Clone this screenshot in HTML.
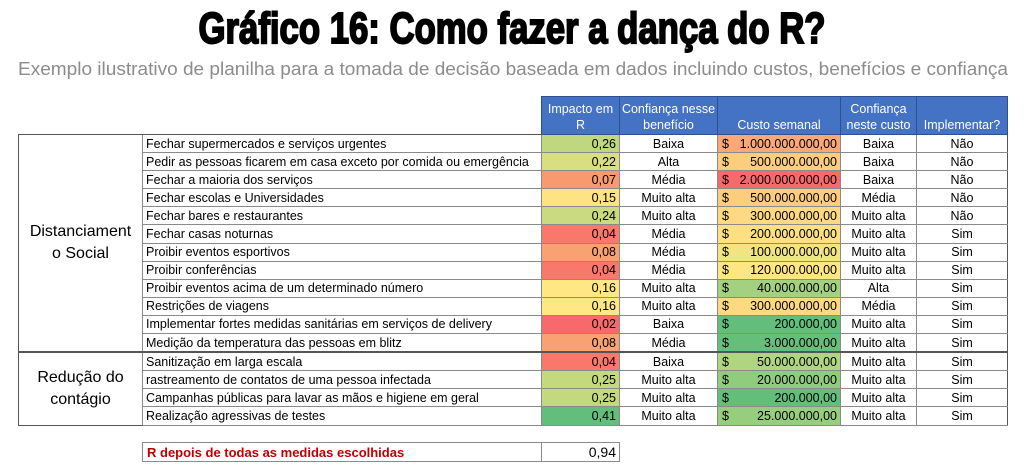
<!DOCTYPE html>
<html><head><meta charset="utf-8"><style>
body{margin:0;width:1024px;height:476px;background:#fff;position:relative;overflow:hidden;font-family:"Liberation Sans",sans-serif}
svg.t{position:absolute;left:0;top:0}
table{position:absolute;left:18px;top:96px;border-collapse:collapse;table-layout:fixed;font-size:12.5px;color:#000}
td{padding:0 3px;height:17.1px;line-height:16px;white-space:nowrap;overflow:hidden;border:1px solid #8a8a8a}
tr.h td{height:36px;background:#4472c4;color:#fff;text-align:center;vertical-align:bottom;line-height:16px;border:1px solid #2f4f8f;padding:0 1px 1px}
tr.h td.e{background:none;border:none;border-bottom:1px solid #555}
td.cat{text-align:center;font-size:16px;line-height:22px;border:1px solid #555;border-right:1px solid #8a8a8a}
td.n{text-align:right}
td.c{text-align:center}
td.m{text-align:right;position:relative}
td.m span{position:absolute;left:4px}
tr.g td{border-top:2px solid #555}
td.last{border-right:1px solid #555}
.b{position:absolute;top:442px;height:20px;border:1px solid #8a8a8a;font-size:13px;line-height:19px;box-sizing:border-box}
</style></head><body>
<svg class="t" width="1024" height="90">
<text x="512" y="43" text-anchor="middle" font-family="Liberation Sans Narrow, Liberation Sans, sans-serif" font-weight="bold" font-size="44" textLength="627" lengthAdjust="spacingAndGlyphs" fill="#000" stroke="#000" stroke-width="2">Gráfico 16: Como fazer a dança do R?</text>
<text x="513" y="75" text-anchor="middle" font-family="Liberation Sans Narrow, Liberation Sans, sans-serif" font-size="18" textLength="990" lengthAdjust="spacingAndGlyphs" fill="#8c8c8c">Exemplo ilustrativo de planilha para a tomada de decisão baseada em dados incluindo custos, benefícios e confiança</text>
</svg>
<table>
<colgroup><col style="width:124px"><col style="width:399px"><col style="width:78px"><col style="width:98px"><col style="width:123px"><col style="width:76px"><col style="width:91px"></colgroup>
<tr class="h"><td class="e"></td><td class="e"></td><td>Impacto em<br>R</td><td>Confiança nesse<br>benefício</td><td>Custo semanal</td><td>Confiança<br>neste custo</td><td>Implementar?</td></tr>
<tr><td class="cat" rowspan="12">Distanciament<br>o Social</td><td>Fechar supermercados e serviços urgentes</td><td class="n" style="background:#bfd77e">0,26</td><td class="c">Baixa</td><td class="m" style="background:#fba876"><span>$</span>1.000.000.000,00</td><td class="c">Baixa</td><td class="c last">Não</td></tr>
<tr><td>Pedir as pessoas ficarem em casa exceto por comida ou emergência</td><td class="n" style="background:#d8de82">0,22</td><td class="c">Alta</td><td class="m" style="background:#fdcd7e"><span>$</span>500.000.000,00</td><td class="c">Baixa</td><td class="c last">Não</td></tr>
<tr><td>Fechar a maioria dos serviços</td><td class="n" style="background:#f8996f">0,07</td><td class="c">Média</td><td class="m" style="background:#f8696b"><span>$</span>2.000.000.000,00</td><td class="c">Baixa</td><td class="c last">Não</td></tr>
<tr><td>Fechar escolas e Universidades</td><td class="n" style="background:#fde382">0,15</td><td class="c">Muito alta</td><td class="m" style="background:#fdcd7e"><span>$</span>500.000.000,00</td><td class="c">Média</td><td class="c last">Não</td></tr>
<tr><td>Fechar bares e restaurantes</td><td class="n" style="background:#c9da80">0,24</td><td class="c">Muito alta</td><td class="m" style="background:#fed981"><span>$</span>300.000.000,00</td><td class="c">Muito alta</td><td class="c last">Não</td></tr>
<tr><td>Fechar casas noturnas</td><td class="n" style="background:#f8786c">0,04</td><td class="c">Média</td><td class="m" style="background:#fedf82"><span>$</span>200.000.000,00</td><td class="c">Muito alta</td><td class="c last">Sim</td></tr>
<tr><td>Proibir eventos esportivos</td><td class="n" style="background:#f9a173">0,08</td><td class="c">Média</td><td class="m" style="background:#f0e483"><span>$</span>100.000.000,00</td><td class="c">Muito alta</td><td class="c last">Sim</td></tr>
<tr><td>Proibir conferências</td><td class="n" style="background:#f8786c">0,04</td><td class="c">Média</td><td class="m" style="background:#fee683"><span>$</span>120.000.000,00</td><td class="c">Muito alta</td><td class="c last">Sim</td></tr>
<tr><td>Proibir eventos acima de um determinado número</td><td class="n" style="background:#ffe784">0,16</td><td class="c">Muito alta</td><td class="m" style="background:#a3d17f"><span>$</span>40.000.000,00</td><td class="c">Alta</td><td class="c last">Sim</td></tr>
<tr><td>Restrições de viagens</td><td class="n" style="background:#ffe784">0,16</td><td class="c">Muito alta</td><td class="m" style="background:#fed981"><span>$</span>300.000.000,00</td><td class="c">Média</td><td class="c last">Sim</td></tr>
<tr><td>Implementar fortes medidas sanitárias em serviços de delivery</td><td class="n" style="background:#f8696b">0,02</td><td class="c">Baixa</td><td class="m" style="background:#63be7b"><span>$</span>200.000,00</td><td class="c">Muito alta</td><td class="c last">Sim</td></tr>
<tr><td>Medição da temperatura das pessoas em blitz</td><td class="n" style="background:#f9a173">0,08</td><td class="c">Média</td><td class="m" style="background:#65bf7b"><span>$</span>3.000.000,00</td><td class="c">Muito alta</td><td class="c last">Sim</td></tr>
<tr class="g"><td class="cat" rowspan="4">Redução do<br>contágio</td><td>Sanitização em larga escala</td><td class="n" style="background:#f8786c">0,04</td><td class="c">Baixa</td><td class="m" style="background:#b0d580"><span>$</span>50.000.000,00</td><td class="c">Muito alta</td><td class="c last">Sim</td></tr>
<tr><td>rastreamento de contatos de uma pessoa infectada</td><td class="n" style="background:#c4d87e">0,25</td><td class="c">Muito alta</td><td class="m" style="background:#90cb7e"><span>$</span>20.000.000,00</td><td class="c">Muito alta</td><td class="c last">Sim</td></tr>
<tr><td>Campanhas públicas para lavar as mãos e higiene em geral</td><td class="n" style="background:#c4d87e">0,25</td><td class="c">Muito alta</td><td class="m" style="background:#63be7b"><span>$</span>200.000,00</td><td class="c">Muito alta</td><td class="c last">Sim</td></tr>
<tr style="border-bottom:1px solid #555"><td>Realização agressivas de testes</td><td class="n" style="background:#63be7b">0,41</td><td class="c">Muito alta</td><td class="m" style="background:#96ce7e"><span>$</span>25.000.000,00</td><td class="c">Muito alta</td><td class="c last">Sim</td></tr>
</table>
<div class="b" style="left:142px;width:400px;color:#c00000;font-weight:bold;padding-left:4px">R depois de todas as medidas escolhidas</div>
<div class="b" style="left:541px;width:79px;text-align:right;padding-right:3px;font-size:14px">0,94</div>
</body></html>
